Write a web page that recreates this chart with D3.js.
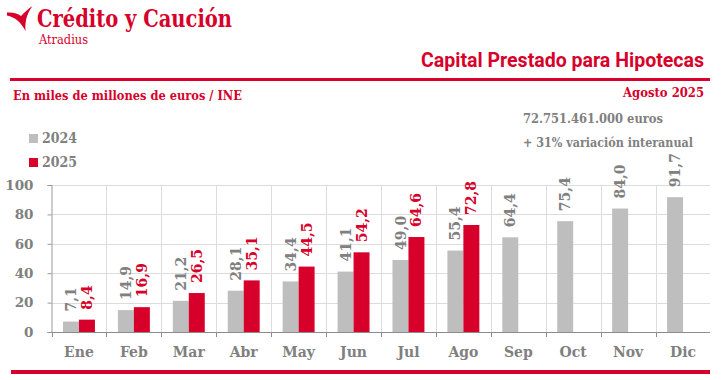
<!DOCTYPE html>
<html><head><meta charset="utf-8">
<script src="https://cdn.jsdelivr.net/npm/d3@7/dist/d3.min.js"></script>
<style>
body{margin:0;background:#fff;}
svg{display:block;}
.slab{font-family:"DejaVu Serif",serif;}
</style></head>
<body>
<script>
const months = ["Ene","Feb","Mar","Abr","May","Jun","Jul","Ago","Sep","Oct","Nov","Dic"];
const series = ["2024","2025"];
const values2024 = [7.1,14.9,21.2,28.1,34.4,41.1,49.0,55.4,64.4,75.4,84.0,91.7];
const values2025 = [8.4,16.9,26.5,35.1,44.5,54.2,64.6,72.8];
const yTicks = [0,20,40,60,80,100];

const RED = "#d7002b", GRAY_BAR = "#bebebe", GRAY_TXT = "#808080";
const W = 722, H = 380;
const svg = d3.select("body").append("svg").attr("width", W).attr("height", H);

// Logo
svg.append("path")
  .attr("d","M7,12.5 C13,12 18,13.5 21,16 C25,12 28.5,8.5 32.5,6 C29,11 27,15 26,20 C25.3,24 25.2,27.5 25.5,31 C23,26.5 20.5,23 17.5,20.5 C14.5,18 11,16.5 7,15.5 Z")
  .attr("fill", RED);
svg.append("text").attr("class","slab").attr("x",37).attr("y",27)
  .attr("font-size",23.5).attr("font-weight","bold").attr("fill",RED)
  .attr("textLength",195).attr("lengthAdjust","spacingAndGlyphs")
  .text("Crédito y Caución");
svg.append("text").attr("class","slab").attr("x",39).attr("y",44)
  .attr("font-size",12).attr("fill",RED)
  .attr("textLength",49).attr("lengthAdjust","spacingAndGlyphs")
  .text("Atradius");

// Title
svg.append("text").attr("x",704).attr("y",67).attr("text-anchor","end")
  .attr("font-family","Roboto, 'Open Sans', sans-serif").attr("font-weight","bold")
  .attr("font-size",20).attr("fill",RED)
  .attr("textLength",283).attr("lengthAdjust","spacingAndGlyphs")
  .text("Capital Prestado para Hipotecas");
svg.append("rect").attr("x",10).attr("y",78).attr("width",700).attr("height",3).attr("fill",RED);

svg.append("text").attr("class","slab").attr("x",13).attr("y",99.5)
  .attr("font-size",12.5).attr("font-weight","bold").attr("fill",RED)
  .attr("textLength",229).attr("lengthAdjust","spacingAndGlyphs")
  .text("En miles de millones de euros / INE");
svg.append("text").attr("class","slab").attr("x",704).attr("y",97).attr("text-anchor","end")
  .attr("font-size",12.5).attr("font-weight","bold").attr("fill",RED)
  .attr("textLength",81).attr("lengthAdjust","spacingAndGlyphs")
  .text("Agosto 2025");

svg.append("text").attr("class","slab").attr("x",523).attr("y",123)
  .attr("font-size",12.5).attr("font-weight","bold").attr("fill",GRAY_TXT)
  .attr("textLength",140).attr("lengthAdjust","spacingAndGlyphs")
  .text("72.751.461.000  euros");
svg.append("text").attr("class","slab").attr("x",523).attr("y",147)
  .attr("font-size",12.5).attr("font-weight","bold").attr("fill",GRAY_TXT)
  .attr("textLength",170).attr("lengthAdjust","spacingAndGlyphs")
  .text("+ 31% variación interanual");

// Legend
const colors = d3.scaleOrdinal(series, [GRAY_BAR, RED]);
series.forEach((s,i)=>{
  const gy = 134 + i*24;
  svg.append("rect").attr("x",29).attr("y",gy).attr("width",9).attr("height",9).attr("fill",colors(s));
  svg.append("text").attr("class","slab").attr("x",42).attr("y",gy+9)
    .attr("font-size",14).attr("font-weight","bold").attr("fill",GRAY_TXT)
    .attr("textLength",35).attr("lengthAdjust","spacingAndGlyphs").text(s);
});

// Scales
const x0 = d3.scaleBand(months, [51.5, 710.5]).paddingInner(0).paddingOuter(0);
const x1 = d3.scaleBand(series, [0, x0.bandwidth()]).paddingInner(0).paddingOuter(0.71875);
const y = d3.scaleLinear([0,100],[332,185]);

const g = svg.append("g");
g.selectAll(".hg").data(yTicks.slice(1)).join("line")
  .attr("x1",51.5).attr("x2",710).attr("y1",d=>Math.round(y(d))+0.5).attr("y2",d=>Math.round(y(d))+0.5)
  .attr("stroke","#dcdcdc").attr("stroke-width",1);
g.selectAll(".vg").data(months.slice(1)).join("line")
  .attr("x1",d=>Math.round(x0(d))+0.5).attr("x2",d=>Math.round(x0(d))+0.5)
  .attr("y1",y(100)).attr("y2",y(0))
  .attr("stroke","#dcdcdc").attr("stroke-width",1);

const fmt = v => d3.format(".1f")(v).replace(".",",");
const rows = [];
months.forEach((m,i)=>{
  rows.push({m, s:"2024", v: values2024[i]});
  if (i < values2025.length) rows.push({m, s:"2025", v: values2025[i]});
});
g.selectAll(".bar").data(rows).join("rect")
  .attr("x",d=>x0(d.m)+x1(d.s)).attr("width",x1.bandwidth())
  .attr("y",d=>y(d.v)).attr("height",d=>y(0)-y(d.v))
  .attr("fill",d=>colors(d.s));

g.selectAll(".lbl").data(rows).join("text").attr("class","slab")
  .attr("transform",d=>`translate(${x0(d.m)+x1(d.s)+x1.bandwidth()/2},${y(d.v)-10}) rotate(-90)`)
  .attr("dy","0.36em")
  .attr("font-size",14).attr("font-weight","bold")
  .attr("fill",d=>d.s==="2025"?RED:GRAY_TXT)
  .text(d=>fmt(d.v));

const yAxis = g.append("g").attr("transform","translate(51.5,0)")
  .call(d3.axisLeft(y).tickValues(yTicks).tickSize(4).tickPadding(14));
yAxis.select(".domain").attr("stroke","#999");
yAxis.selectAll(".tick line").attr("stroke","#999");
yAxis.selectAll("text").attr("class","slab").attr("font-size",13.5).attr("font-weight","bold").attr("fill",GRAY_TXT).attr("font-family",null);

const xAxis = g.append("g").attr("transform",`translate(0,${y(0)})`)
  .call(d3.axisBottom(x0).tickSize(0).tickPadding(15));
xAxis.select(".domain").attr("stroke","#8c8c8c").attr("d","M51.5,0.5H710");
xAxis.selectAll("text").attr("class","slab").attr("font-size",14).attr("font-weight","bold").attr("fill",GRAY_TXT).attr("font-family",null);
g.selectAll(".xt").data(months).join("line")
  .attr("x1",d=>Math.round(x0(d))+0.5).attr("x2",d=>Math.round(x0(d))+0.5)
  .attr("y1",y(0)).attr("y2",y(0)+5).attr("stroke","#8c8c8c");

svg.append("rect").attr("x",11).attr("y",370).attr("width",699).attr("height",4).attr("fill",RED);
</script>
</body></html>
